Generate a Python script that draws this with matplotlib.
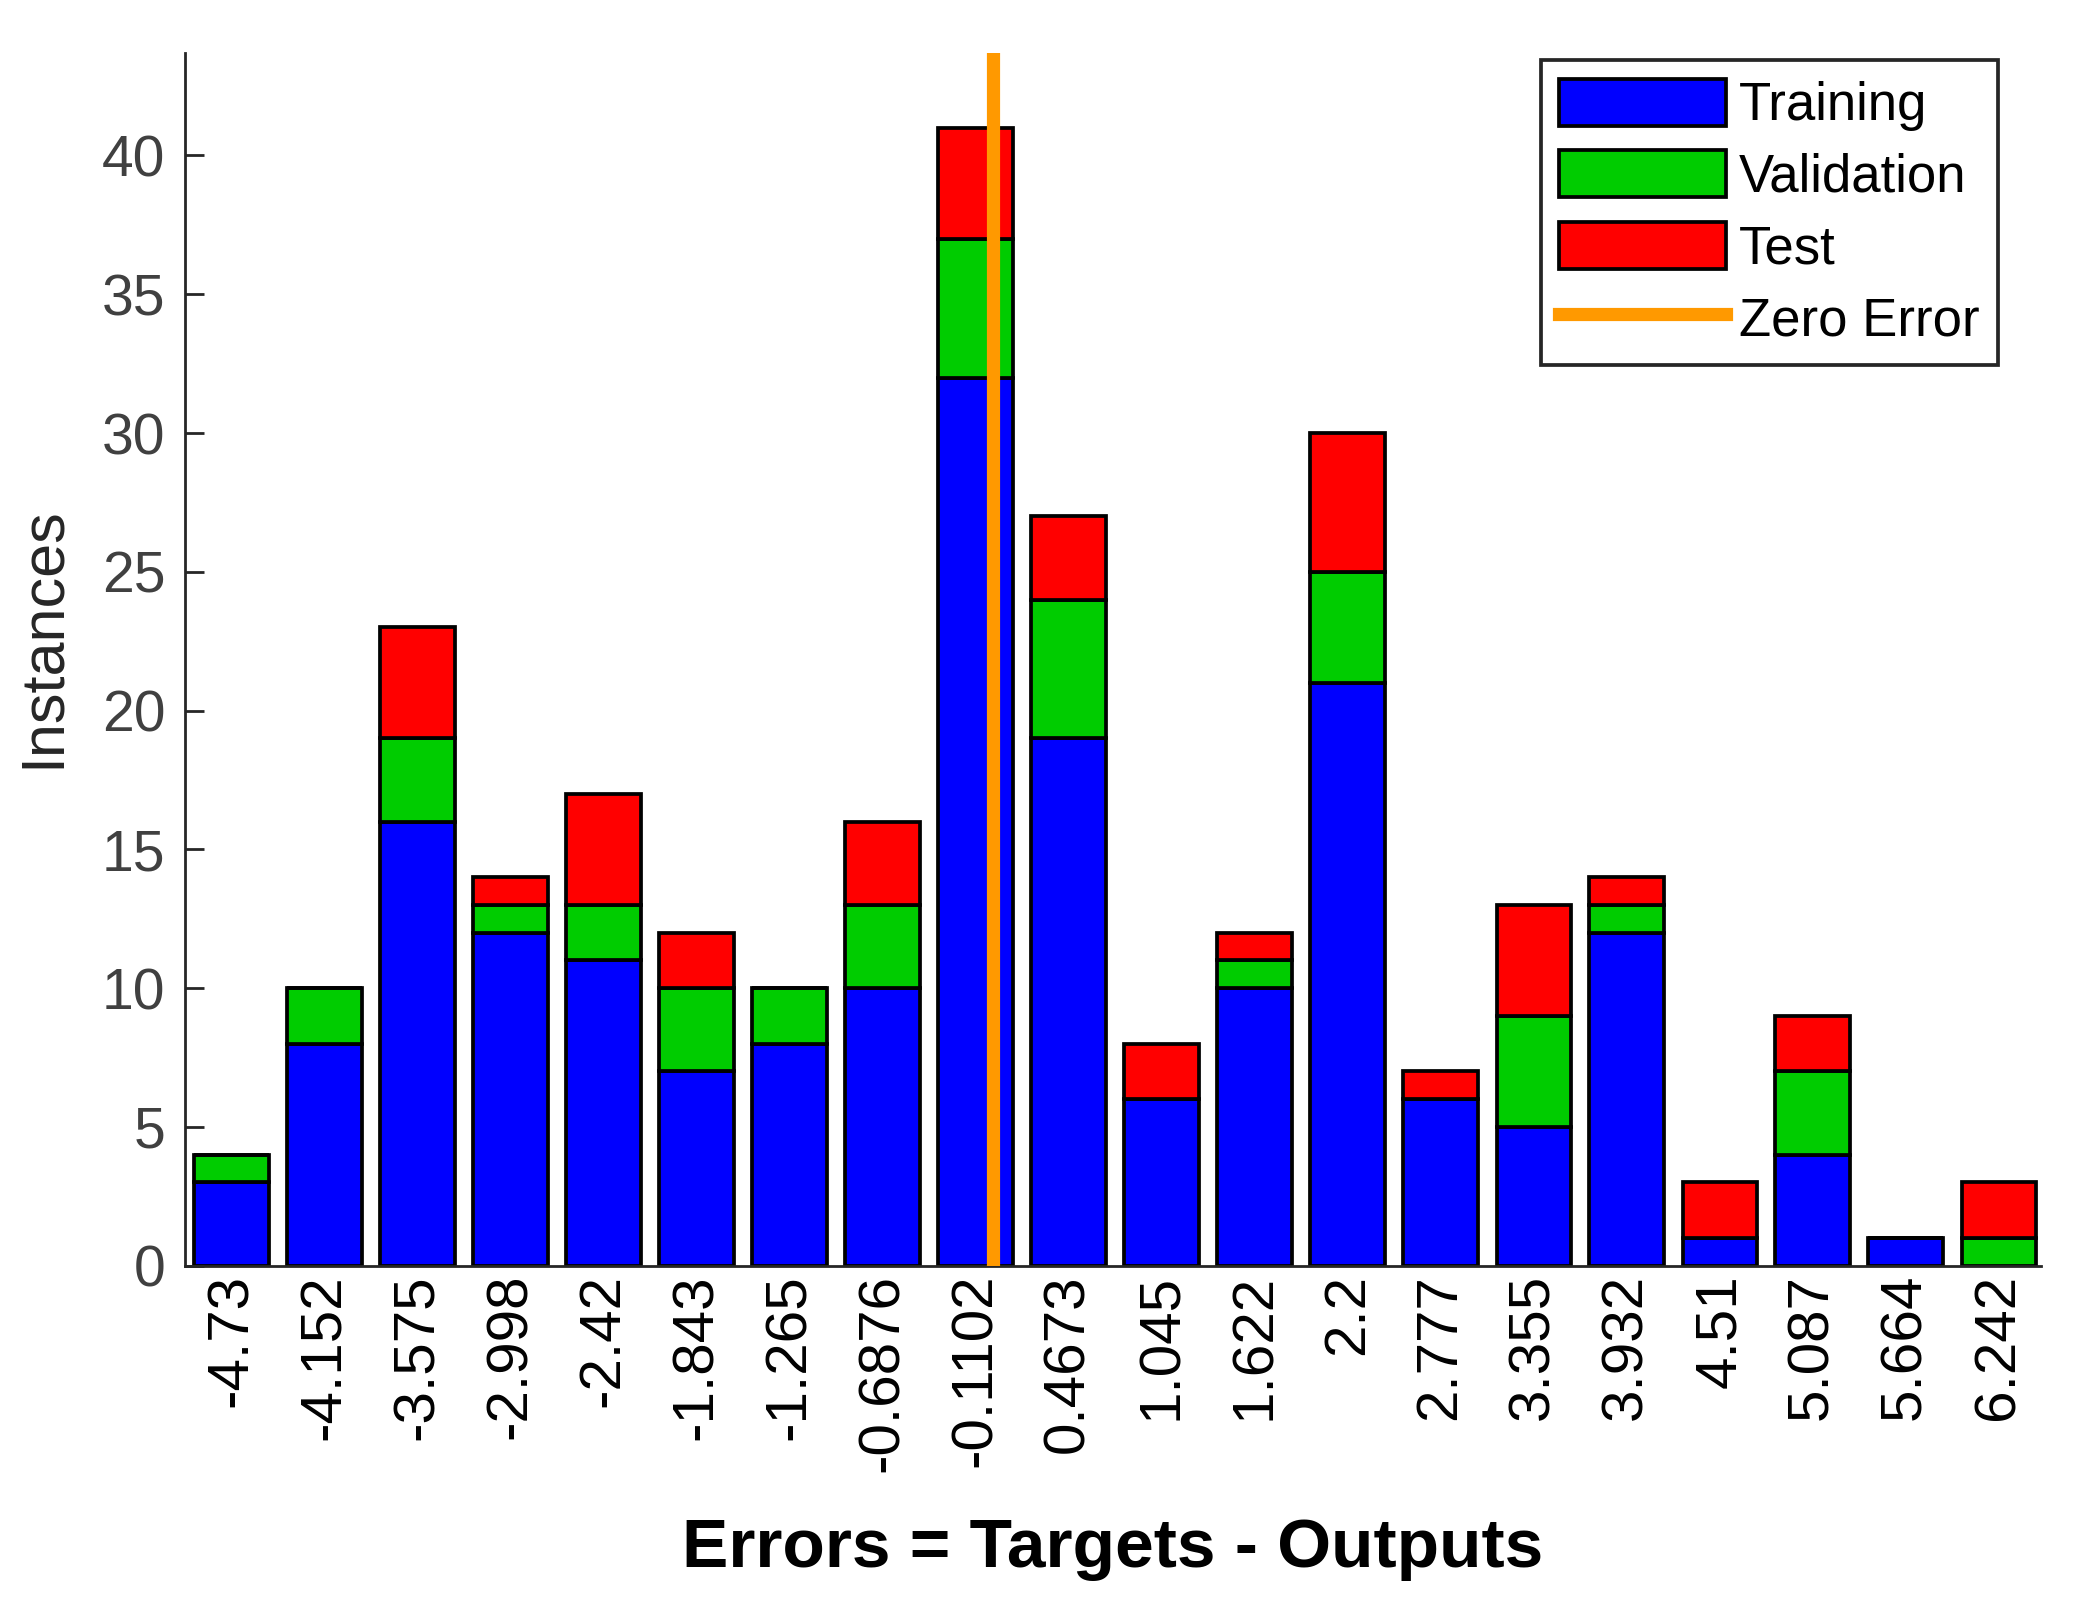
import numpy as np
import matplotlib
matplotlib.use("Agg")
import matplotlib.pyplot as plt

# bin centres, as printed under the bars
bin_labels = ["-4.73", "-4.152", "-3.575", "-2.998", "-2.42", "-1.843", "-1.265",
              "-0.6876", "-0.1102", "0.4673", "1.045", "1.622", "2.2", "2.777",
              "3.355", "3.932", "4.51", "5.087", "5.664", "6.242"]
training   = [3, 8, 16, 12, 11, 7, 8, 10, 32, 19, 6, 10, 21, 6, 5, 12, 1, 4, 1, 0]
validation = [1, 2, 3, 1, 2, 3, 2, 3, 5, 5, 0, 1, 4, 0, 4, 1, 0, 3, 0, 1]
test       = [0, 0, 4, 1, 4, 2, 0, 3, 4, 3, 2, 1, 5, 1, 4, 1, 2, 2, 0, 2]

plt.rcParams['font.family'] = ['Liberation Sans', 'DejaVu Sans']

centers = np.array([float(s) for s in bin_labels])
width = (centers[-1] - centers[0]) / (len(centers) - 1)
tr = np.array(training)
va = np.array(validation)
te = np.array(test)

fig = plt.figure(figsize=(20.78, 16), dpi=100)
ax = fig.add_axes([0.089, 0.209, 0.893, 0.758])

edge = dict(edgecolor='black', linewidth=2.7)
b1 = ax.bar(centers, tr, width=0.8 * width, color='#0000ff', label='Training', **edge)
b2 = ax.bar(centers, va, width=0.8 * width, bottom=tr, color='#00cc00', label='Validation', **edge)
b3 = ax.bar(centers, te, width=0.8 * width, bottom=tr + va, color='#ff0000', label='Test', **edge)

ymax = 43.7
zl, = ax.plot([0, 0], [0, ymax], color='#ff9900', linewidth=9.5, label='Zero Error', zorder=5)

ax.set_xlim(centers[0] - 0.5 * width, centers[-1] + 0.45 * width)
ax.set_ylim(0, ymax)

ax.set_xticks(centers)
ax.set_xticklabels(bin_labels, rotation=90, fontsize=42, color='black')
ax.tick_params(axis='x', length=0, pad=6)
ax.set_yticks(np.arange(0, 45, 5))
ax.tick_params(axis='y', direction='in', length=14, width=2, colors='#262626',
               labelsize=41, labelcolor='#404040', pad=14)

for side in ['top', 'right']:
    ax.spines[side].set_visible(False)
for side in ['left', 'bottom']:
    ax.spines[side].set_color('#262626')
    ax.spines[side].set_linewidth(2)

ax.set_xlabel("Errors = Targets - Outputs", fontsize=50, fontweight='bold', labelpad=32)
ax.set_ylabel("Instances", fontsize=44, color='#262626')
ax.yaxis.set_label_coords(-0.061, 0.518)

leg = ax.legend([b1, b2, b3, zl], ['Training', 'Validation', 'Test', 'Zero Error'],
                loc='upper right', fontsize=38, handlelength=3.15, handleheight=1.0,
                handletextpad=0.25, labelspacing=0.36, fancybox=False, framealpha=1,
                borderpad=0.35, borderaxespad=0, bbox_to_anchor=(0.977, 0.994))
leg.get_frame().set_edgecolor('#262626')
leg.get_frame().set_linewidth(2.7)

fig.savefig("out.png", dpi=100)
